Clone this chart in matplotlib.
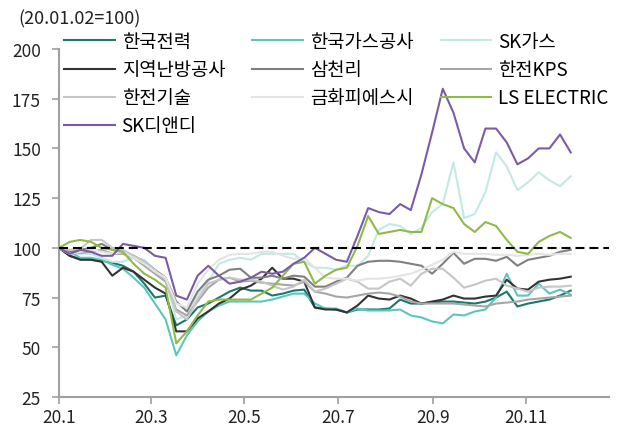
import matplotlib
matplotlib.use("Agg")
import matplotlib.pyplot as plt
import matplotlib.dates as mdates
import pandas as pd

plt.rcParams["font.family"] = ["Noto Sans CJK KR", "DejaVu Sans"]

# roughly weekly samples, 2020-01-02 .. 2020-12-01 (20.01.02 = 100)
dates = pd.date_range("2020-01-02", "2020-12-01", periods=49)

kepco = [100, 96, 94.5, 94.5, 93.5, 92.5, 91, 88, 82, 75, 76, 61, 64, 70, 72, 75, 78,
         80, 78.5, 78.5, 76, 77, 78.5, 79, 70, 69.5, 69, 67.5, 69, 69, 69, 69.5, 74,
         72, 72, 72.5, 73, 73, 72.5, 72, 73, 75, 78, 70.5, 72, 73, 74, 76, 78.5]
kogas = [100, 98, 95, 95, 94, 91.5, 89.5, 85, 80, 72, 64, 46, 56, 63, 68, 71, 73,
         73, 73, 73, 74, 75.5, 77, 77, 72, 69.5, 69.5, 67.5, 69.5, 68.5, 68.5, 68.5, 69,
         66, 65, 63, 62, 66.5, 66, 68, 69, 75, 87, 76, 76, 82, 77, 79, 76.5]
sk_gas = [100, 98, 97, 97, 95, 93, 93, 95, 94, 89, 84, 64, 66, 76, 83, 92, 94,
          95, 94, 97, 97, 97, 97, 93, 90, 90, 89, 91, 91, 96, 109, 112, 111,
          107, 110, 118, 122, 143, 115, 117, 128, 148, 141, 129, 133, 138, 134, 131, 136]
kdhc = [100, 96, 94, 94, 93, 86, 90, 88, 84, 80, 77, 58, 58, 64.5, 68, 72, 74.5,
        79, 81, 84.5, 90, 84.5, 84.5, 83, 70, 69, 69, 67.5, 71, 76, 74.5, 74, 76,
        74.5, 72, 73, 74, 76, 74.5, 74.5, 75.5, 76, 84, 79.5, 79, 83, 84, 84.5, 85.5]
samchully = [100, 98, 99, 100, 102, 99, 98, 96, 93, 89, 85, 73, 68, 78, 84, 86, 89,
             89.5, 85, 85, 86, 84.5, 86, 85.5, 80.5, 80.5, 83, 85, 91, 93, 93.5, 93.5, 93,
             92, 91, 87, 92, 97.5, 92, 94.5, 94.5, 93.5, 95.5, 91, 94, 95, 96, 98, 99]
kps = [100, 97, 97.5, 98, 99, 97, 97, 95, 91, 87, 83, 69, 66, 73, 80, 84, 85,
       83, 83.5, 82.5, 82, 81.5, 81, 83, 78, 77, 75.5, 75, 76, 77, 77.5, 77, 75.5,
       73, 72, 72, 72, 72, 71.5, 71, 70.5, 72, 72.5, 73, 74, 74.5, 75, 75.5, 76]
kepco_enc = [100, 99, 99.5, 104, 104, 100, 99, 96, 93, 89, 84, 68, 64, 74, 82, 84, 85,
             84, 84, 83, 81, 79, 80.5, 84, 78, 79.5, 82, 84.5, 83, 79.5, 79.5, 83, 84.5,
             81, 87, 89.5, 89.5, 85, 80, 81.5, 83.5, 84.5, 81, 79.5, 78, 80, 80.5, 80.5, 81]
kumhwa = [100, 97, 98, 99, 98, 97, 98, 95, 92, 88, 85, 72, 70, 82, 89, 94, 96.5,
          97, 97, 98, 98, 96, 94.5, 95, 90, 85, 84.5, 84.5, 83.5, 84.5, 84.5, 85, 86,
          87, 89, 91.5, 94, 98, 97, 97, 97, 96.5, 96.5, 96, 96.5, 97, 96.5, 97, 97]
ls_electric = [100, 103, 104, 103, 100, 99, 98, 92, 87, 84, 80, 52, 58, 66, 73, 74, 74,
               74, 74, 77, 80, 86, 92, 93, 82, 86, 89, 90, 101, 116, 107, 108, 109,
               108, 108, 125, 122, 120, 112, 108, 113, 111, 104, 98, 97, 103, 106, 108, 105]
sk_dnd = [100, 97, 99, 98, 96, 96, 102, 101, 100, 96, 95, 76, 74, 86, 91, 86, 82,
          83, 85, 88, 87, 88, 92, 95, 100, 97, 94, 93, 106, 120, 118, 117, 122,
          119, 137, 158, 180, 168, 150, 143, 160, 160, 153, 142, 145, 150, 150, 157, 148]

names = ["한국전력", "한국가스공사", "SK가스", "지역난방공사", "삼천리", "한전KPS",
         "한전기술", "금화피에스시", "LS ELECTRIC", "SK디앤디"]
series = [kepco, kogas, sk_gas, kdhc, samchully, kps, kepco_enc, kumhwa, ls_electric, sk_dnd]
colors = ["#1b786d", "#5cc6bd", "#c2eae5", "#333333", "#808080", "#a6a6a6",
          "#c6c6c6", "#e4e4e4", "#8fba48", "#7a5ca6"]

fig = plt.figure(figsize=(6.17, 4.27), dpi=100)
ax = fig.add_axes([59 / 617, 29 / 427, 550 / 617, 348 / 427])

handles = []
for name, vals, c in zip(names, series, colors):
    h, = ax.plot(dates, vals, color=c, lw=1.5, label=name)
    handles.append(h)

ax.axhline(100, color="black", lw=1.5, dashes=(4.3, 2.4), zorder=5)

start = pd.Timestamp("2020-01-02")
ax.set_xlim(start, start + pd.Timedelta(days=359))
ax.set_ylim(25, 200)
ax.set_yticks(range(25, 201, 25))
ax.set_xticks(pd.to_datetime(["2020-01-02", "2020-03-02", "2020-05-02",
                              "2020-07-02", "2020-09-02", "2020-11-02"]))
ax.xaxis.set_major_formatter(mdates.DateFormatter("%y.%-m"))

for s in ["top", "right"]:
    ax.spines[s].set_visible(False)
for s in ["left", "bottom"]:
    ax.spines[s].set_color("#a0a0a0")
    ax.spines[s].set_linewidth(1.5)
ax.tick_params(axis="both", colors="#a0a0a0", length=5, width=1.2, labelsize=12.5,
               labelcolor="#222222")
ax.tick_params(axis="y", pad=8)
ax.tick_params(axis="x", pad=3)

# legend: fill row by row like the source (3 columns)
order = [0, 3, 6, 9, 1, 4, 7, 2, 5, 8]
ax.legend([handles[i] for i in order], [names[i] for i in order],
          ncol=3, loc="upper left", bbox_to_anchor=(64 / 617, 1 - 32 / 427),
          bbox_transform=fig.transFigure, frameon=False, fontsize=13.5,
          handlelength=2.7, handletextpad=0.37, columnspacing=1.45,
          labelspacing=0.38, borderpad=0, borderaxespad=0)

fig.text(18 / 617, 1 - 19 / 427, "(20.01.02=100)", fontsize=13, va="center",
         ha="left", color="#222222")

fig.savefig("out.png", dpi=100)
